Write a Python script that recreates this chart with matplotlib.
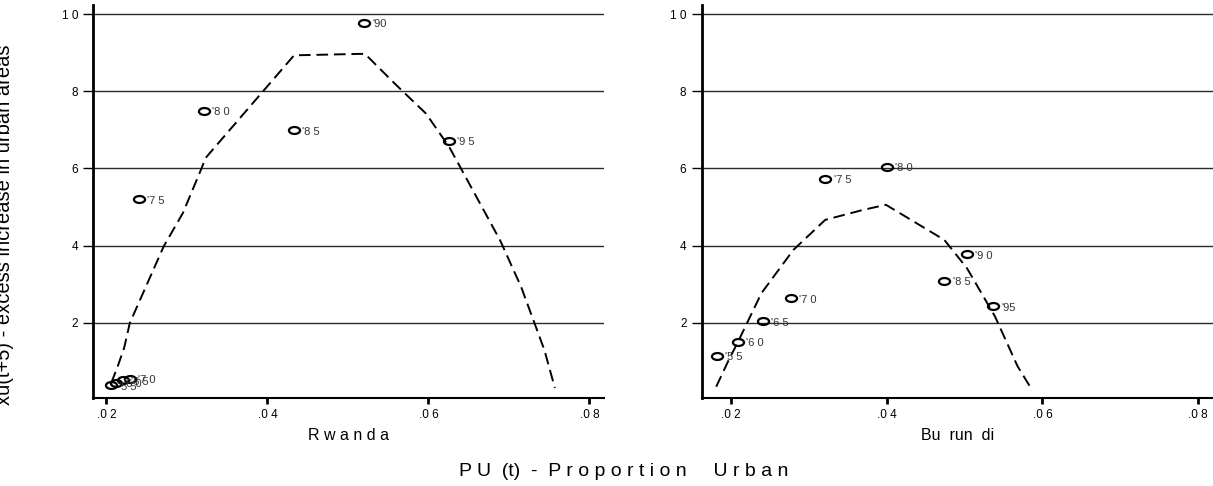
import matplotlib.pyplot as plt
from matplotlib.path import Path
import matplotlib.transforms as mtransforms

# Rwanda: observed points (proportion urban, excess increase)
rw_years = ["'5 5", "'6 0", "'6 5", "'7 0", "'7 5", "'8 0", "'8 5", "'90", "'9 5"]
rw_pu = [0.0205, 0.0212, 0.0220, 0.0229, 0.0240, 0.0321, 0.0433, 0.0520, 0.0625]
rw_xu = [0.39, 0.45, 0.52, 0.55, 5.20, 7.49, 6.99, 9.78, 6.72]
# Rwanda: fitted curve
rw_fit_pu = [0.0206, 0.0214, 0.0222, 0.0229, 0.0271, 0.0295, 0.0318, 0.0323,
             0.0433, 0.0521, 0.0558, 0.0597, 0.0626, 0.0689, 0.0715,
             0.0744, 0.0757]
rw_fit_xu = [0.45, 0.88, 1.36, 2.00, 3.98, 4.85, 6.00, 6.27,
             8.93, 8.97, 8.20, 7.42, 6.55, 4.14, 2.94,
             1.30, 0.32]

# Burundi: observed points
bu_years = ["'5 5", "'6 0", "'6 5", "'7 0", "'7 5", "'8 0", "'8 5", "'9 0", "'95"]
bu_pu = [0.0182, 0.0209, 0.0241, 0.0277, 0.0321, 0.0400, 0.0474, 0.0503, 0.0536]
bu_xu = [1.15, 1.52, 2.04, 2.64, 5.73, 6.05, 3.09, 3.78, 2.43]
# Burundi: fitted curve
bu_fit_pu = [0.0181, 0.0198, 0.0208, 0.0239, 0.0280, 0.0321, 0.0370, 0.0399,
             0.0474, 0.0503, 0.0539, 0.0568, 0.0585]
bu_fit_xu = [0.35, 1.08, 1.47, 2.77, 3.89, 4.67, 4.93, 5.06,
             4.15, 3.42, 2.17, 0.88, 0.32]

xticks = [0.02, 0.04, 0.06, 0.08]
xticklabels = [".0 2", ".0 4", ".0 6", ".0 8"]
yticks = [2, 4, 6, 8, 10]
yticklabels = ["2", "4", "6", "8", "1 0"]

plt.rcParams['font.family'] = ['Liberation Sans', 'DejaVu Sans']

ell = Path.unit_circle().transformed(mtransforms.Affine2D().scale(1.6, 1.0))

fig = plt.figure(figsize=(12.13, 4.86), dpi=100)
ax1 = fig.add_axes([0.0769, 0.1811, 0.4210, 0.8086])
ax2 = fig.add_axes([0.5785, 0.1811, 0.4215, 0.8086])

panels = [
    (ax1, rw_pu, rw_xu, rw_years, rw_fit_pu, rw_fit_xu, "R w a n d a", (0.01836, 0.0818)),
    (ax2, bu_pu, bu_xu, bu_years, bu_fit_pu, bu_fit_xu, "Bu  run  di", (0.01624, 0.0819)),
]

for ax, px, py, lab, fx, fy, name, xl in panels:
    for yv in yticks:
        ax.axhline(yv, color='#2a2a2a', lw=1.0, zorder=1)
    ax.plot(fx, fy, color='black', lw=1.4, dashes=(6, 3), zorder=2)
    ax.plot(px, py, linestyle='none', marker=ell, ms=8, mfc='none',
            mec='black', mew=1.6, zorder=3)
    for x, y, t in zip(px, py, lab):
        ax.annotate(t, (x, y), xytext=(6, -1), textcoords='offset points',
                    ha='left', va='center', fontsize=8, color='#333333')
    ax.set_xlim(*xl)
    ax.set_ylim(0.058, 10.233)
    ax.set_xticks(xticks)
    ax.set_xticklabels(xticklabels, fontsize=8.5)
    ax.set_yticks(yticks)
    ax.set_yticklabels(yticklabels, fontsize=8.5)
    ax.tick_params(axis='x', length=4, width=2, pad=4)
    ax.tick_params(axis='y', length=7, width=1, pad=4)
    ax.spines['top'].set_visible(False)
    ax.spines['right'].set_visible(False)
    ax.spines['left'].set_linewidth(2)
    ax.spines['bottom'].set_linewidth(1.5)
    ax.set_xlabel(name, fontsize=11.5, labelpad=5)

fig.text(624 / 1213, 0.029, "P U  (t)  -  P r o p o r t i o n     U r b a n",
         ha='center', va='center', fontsize=14)
fig.text(10 / 1213, 0.537, "xu(t+5) - excess increase in urban areas",
         rotation=90, rotation_mode='anchor', ha='center', va='baseline',
         fontsize=14.5)

fig.savefig("out.png", dpi=100)
